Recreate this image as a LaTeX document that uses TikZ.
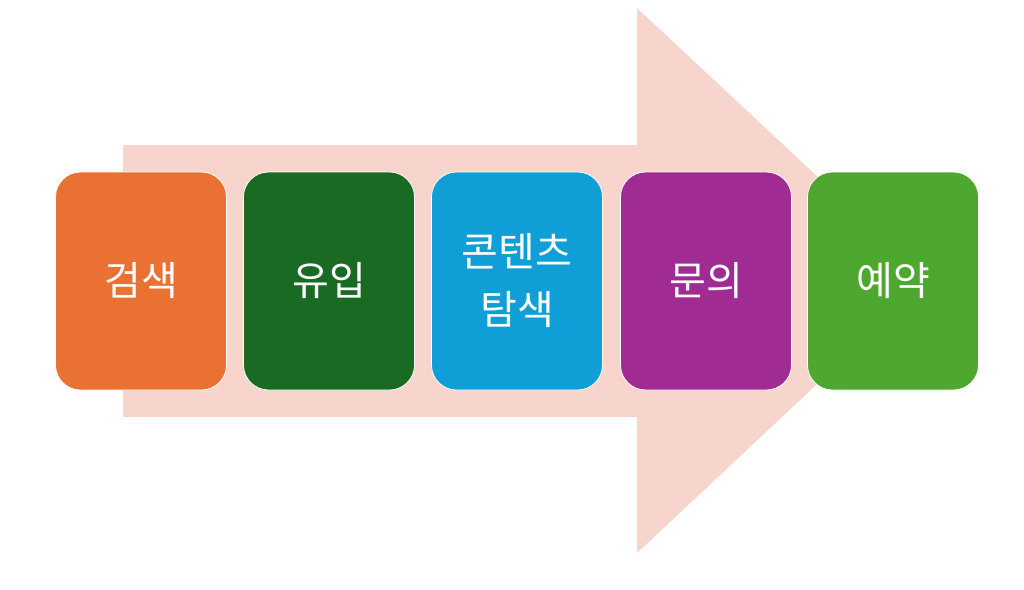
\documentclass[tikz,border=0pt]{standalone}
\usepackage{fontspec}
\newfontfamily\krfont{Noto Sans CJK KR}
\definecolor{arrowpink}{HTML}{F7D5CC}
\definecolor{stepA}{HTML}{E97132}
\definecolor{stepB}{HTML}{196B24}
\definecolor{stepC}{HTML}{0F9ED5}
\definecolor{stepD}{HTML}{A02B93}
\definecolor{stepE}{HTML}{4EA72E}
\tikzset{ stepbox/.style = { rectangle % process step
        , rounded corners = 25pt
        , draw = white
        , thick
        , minimum width = 171pt
        , minimum height = 218pt
        , align = center
        , text = white
        , font = \krfont\fontsize{40}{58}\selectfont
        }
        }
\begin{document}
\begin{tikzpicture}[x=1pt, y=-1pt]
        \useasboundingbox (0,0) rectangle (1024,589);
        \fill [arrowpink] (123,145) -- (637,145) -- (637,8) -- (928,280) -- (637,553) -- (637,417) -- (123,417) -- cycle;

        \node [stepbox,fill=stepA](s1) at (141,281) {검색};
        \node [stepbox,fill=stepB](s2) at (329,281) {유입};
        \node [stepbox,fill=stepC](s3) at (517,281) {콘텐츠\\탐색};
        \node [stepbox,fill=stepD](s4) at (706,281) {문의};
        \node [stepbox,fill=stepE](s5) at (893,281) {예약};
\end{tikzpicture}
\end{document}
